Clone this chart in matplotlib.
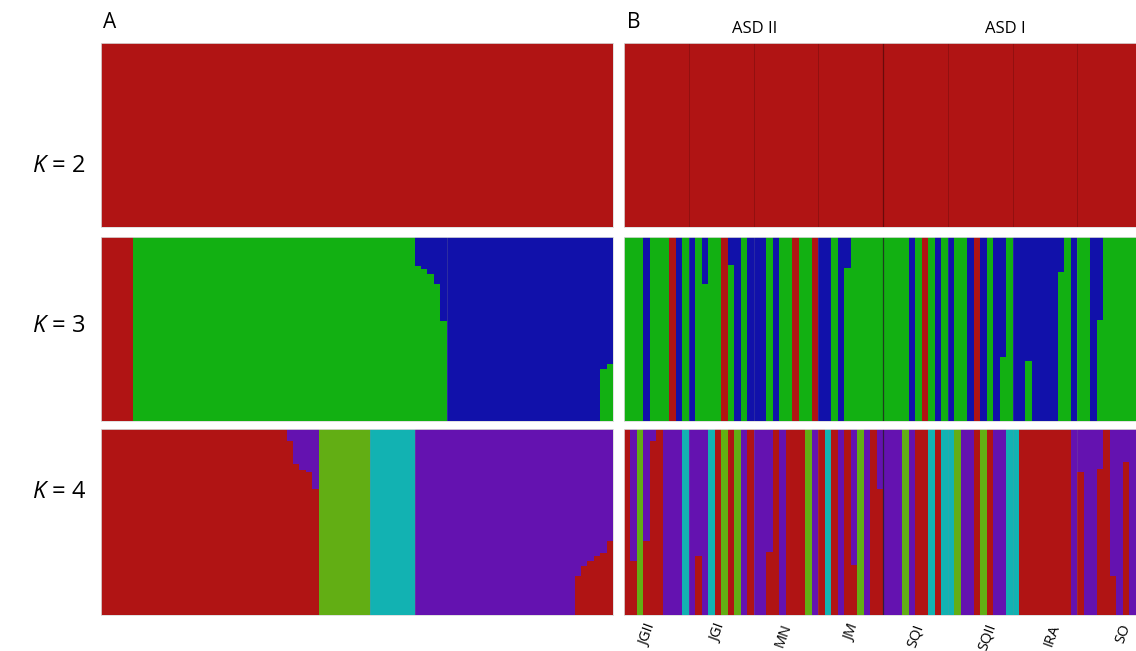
import numpy as np
import matplotlib
matplotlib.use("Agg")
import matplotlib.pyplot as plt

plt.rcParams['font.family'] = ['Open Sans', 'DejaVu Sans']
plt.rcParams['mathtext.fontset'] = 'custom'
plt.rcParams['mathtext.it'] = 'Open Sans:italic'
plt.rcParams['mathtext.rm'] = 'Open Sans'

# ---------------- colours ----------------
RED = '#B01414'
GREEN = '#12B012'
BLUE = '#1111AA'
PURPLE = '#6412B0'
LIME = '#62AE14'
TEAL = '#12B2B2'

# ---------------- labels ----------------
row_labels = ['2', '3', '4']
panel_letters = ['A', 'B']
group_labels = ['ASD II', 'ASD I']
pop_labels = ['JGII', 'JGI', 'MN', 'JM', 'SQI', 'SQII', 'IRA', 'SO']

# ---------------- panel A (80 individuals) ----------------
a_k2_red = [1.0] * 80

a_k3_red = [1.0] * 5 + [0.0] * 75
a_k3_green = ([0.0] * 5 + [1.0] * 44 + [0.845, 0.826, 0.80, 0.745, 0.543]
              + [0.0] * 24 + [0.28, 0.31])
a_k3_blue = ([0.0] * 5 + [0.0] * 44 + [0.155, 0.174, 0.20, 0.255, 0.457]
             + [1.0] * 24 + [0.72, 0.69])
a_k3_bounds = [54]

a_k4_red = ([1.0] * 29 + [0.937, 0.812, 0.78, 0.767, 0.68] + [0.0] * 8 + [0.0] * 7
            + [0.0] * 25 + [0.21, 0.263, 0.29, 0.317, 0.335, 0.40])
a_k4_lime = [0.0] * 34 + [1.0] * 8 + [0.0] * 38
a_k4_teal = [0.0] * 42 + [1.0] * 7 + [0.0] * 31
a_k4_purple = ([0.0] * 29 + [0.063, 0.188, 0.22, 0.233, 0.32] + [0.0] * 15
               + [1.0] * 25 + [0.79, 0.737, 0.71, 0.683, 0.665, 0.60])
a_k4_bounds = [42, 49]

# ---------------- panel B (8 populations x 10 individuals) ----------------
b_k2_red = [1.0] * 80

b_k3_red = [0, 0, 0, 0, 0, 0, 0, 1, 0, 0,
            0, 0, 0, 0, 0, 1, 0, 0, 0, 0,
            0, 0, 0, 0, 0, 0, 1, 0, 0, 1,
            0, 0, 0, 0, 0, 0, 0, 0, 0, 0,
            0, 0, 0, 0, 0, 0, 1, 0, 0, 0,
            0, 0, 0, 0, 1, 0, 0, 0, 0, 0,
            0, 0, 0, 0, 0, 0, 0, 0, 0, 0,
            0, 0, 0, 0, 0, 0, 0, 0, 0, 0]
b_k3_green = [1, 1, 1, 0, 1, 1, 1, 0, 0, 1,
              0, 1, 0.745, 1, 1, 0, 0.85, 0, 1, 0,
              0, 0, 1, 0, 1, 1, 0, 1, 1, 0,
              0, 0, 1, 0, 0.83, 1, 1, 1, 1, 1,
              1, 1, 1, 1, 0, 1, 0, 1, 0, 1,
              0, 1, 1, 0, 0, 0, 1, 0, 0.35, 1,
              0, 0, 0.325, 0, 0, 0, 0, 0.81, 1, 0,
              1, 1, 0, 0.55, 1, 1, 1, 1, 1, 1]
b_k3_blue = [0, 0, 0, 1, 0, 0, 0, 0, 1, 0,
             1, 0, 0.255, 0, 0, 0, 0.15, 1, 0, 1,
             1, 1, 0, 1, 0, 0, 0, 0, 0, 0,
             1, 1, 0, 1, 0.17, 0, 0, 0, 0, 0,
             0, 0, 0, 0, 1, 0, 0, 0, 1, 0,
             1, 0, 0, 1, 0, 1, 0, 1, 0.65, 0,
             1, 1, 0.675, 1, 1, 1, 1, 0.19, 0, 1,
             0, 0, 1, 0.45, 0, 0, 0, 0, 0, 0]

b_k4_red = [1, 0.29, 0, 0.40, 0.937, 1, 0, 0, 0, 0,
            0, 0.315, 0, 0, 1, 0, 1, 0, 0, 1,
            0, 0, 0.34, 1, 0, 1, 1, 1, 0, 0,
            1, 0, 1, 0, 1, 0.27, 0, 0, 1, 0.68,
            0, 0, 0, 0, 0, 1, 1, 0, 1, 0,
            0, 0, 0, 0, 1, 0, 1, 0, 0, 0,
            0, 1, 1, 1, 1, 1, 1, 1, 1, 0,
            0.77, 0, 0, 0.785, 1, 0.21, 0, 0.82, 0, 0]
b_k4_lime = [0, 0, 1, 0, 0, 0, 0, 0, 0, 0,
             0, 0, 0, 0, 0, 1, 0, 1, 0, 0,
             0, 0, 0, 0, 0, 0, 0, 0, 1, 0,
             0, 0, 0, 0, 0, 0, 1, 0, 0, 0,
             0, 0, 0, 1, 0, 0, 0, 0, 0, 0,
             0, 1, 0, 0, 0, 1, 0, 0, 0, 0,
             0, 0, 0, 0, 0, 0, 0, 0, 0, 0,
             0, 0, 0, 0, 0, 0, 0, 0, 0, 0]
b_k4_teal = [0, 0, 0, 0, 0, 0, 0, 0, 0, 1,
             0, 0, 0, 1, 0, 0, 0, 0, 0, 0,
             0, 0, 0, 0, 0, 0, 0, 0, 0, 0,
             0, 1, 0, 0, 0, 0, 0, 0, 0, 0,
             0, 0, 0, 0, 0, 0, 0, 1, 0, 1,
             1, 0, 0, 0, 0, 0, 0, 0, 0, 1,
             1, 0, 0, 0, 0, 0, 0, 0, 0, 0,
             0, 0, 0, 0, 0, 0, 0, 0, 0, 1]
b_k4_purple = [0, 0.71, 0, 0.60, 0.063, 0, 1, 1, 1, 0,
               1, 0.685, 1, 0, 0, 0, 0, 0, 1, 0,
               1, 1, 0.66, 0, 1, 0, 0, 0, 0, 1,
               0, 0, 0, 1, 0, 0.73, 0, 1, 0, 0.32,
               1, 1, 1, 0, 1, 0, 0, 0, 0, 0,
               0, 0, 1, 1, 0, 0, 0, 1, 1, 0,
               0, 0, 0, 0, 0, 0, 0, 0, 0, 1,
               0.23, 1, 1, 0.215, 0, 0.79, 1, 0.18, 1, 0]
b_bounds = [10, 20, 30, 50, 60, 70]
b_major_bound = [40]

# ---------------- layout (pixels) ----------------
W, H = 1136, 651
fig = plt.figure(figsize=(W / 100, H / 100), dpi=100)


def add_ax(x0, y0, x1, y1):
    return fig.add_axes([x0 / W, 1 - y1 / H, (x1 - x0) / W, (y1 - y0) / H])


def draw(ax, comps, colors, bounds=(), bcol='#888888', balpha=0.35,
         major=(), mcol='#222222', malpha=0.8):
    n = len(comps[0])
    x = np.arange(n)
    bottom = np.zeros(n)
    for vals, c in zip(comps, colors):
        v = np.asarray(vals, dtype=float)
        ax.bar(x, v, width=1.0, bottom=bottom, align='edge', color=c,
               linewidth=0, antialiased=False)
        bottom = bottom + v
    for b in bounds:
        ax.axvline(b, color=bcol, lw=0.7, alpha=balpha)
    for b in major:
        ax.axvline(b, color=mcol, lw=0.9, alpha=malpha)
    ax.set_xlim(0, n)
    ax.set_ylim(0, 1)
    ax.set_xticks([])
    ax.set_yticks([])
    for s in ax.spines.values():
        s.set_color('#dcdcdc')
        s.set_linewidth(0.6)


rows = [(43, 227), (237, 421), (429, 615)]
AX0, AX1 = 101, 613
BX0, BX1 = 624, 1142

axA2 = add_ax(AX0, rows[0][0], AX1, rows[0][1])
draw(axA2, [a_k2_red], [RED])
axA3 = add_ax(AX0, rows[1][0], AX1, rows[1][1])
draw(axA3, [a_k3_red, a_k3_green, a_k3_blue], [RED, GREEN, BLUE], bounds=a_k3_bounds,
     balpha=0.25)
axA4 = add_ax(AX0, rows[2][0], AX1, rows[2][1])
draw(axA4, [a_k4_red, a_k4_lime, a_k4_teal, a_k4_purple], [RED, LIME, TEAL, PURPLE],
     bounds=a_k4_bounds, balpha=0.25)

axB2 = add_ax(BX0, rows[0][0], BX1, rows[0][1])
draw(axB2, [b_k2_red], [RED], bounds=b_bounds, bcol='#5a0a0a', balpha=0.35,
     major=b_major_bound, mcol='#3a0505', malpha=0.6)
axB3 = add_ax(BX0, rows[1][0], BX1, rows[1][1])
draw(axB3, [b_k3_red, b_k3_green, b_k3_blue], [RED, GREEN, BLUE], bounds=b_bounds,
     balpha=0.2, major=b_major_bound)
axB4 = add_ax(BX0, rows[2][0], BX1, rows[2][1])
draw(axB4, [b_k4_red, b_k4_lime, b_k4_teal, b_k4_purple], [RED, LIME, TEAL, PURPLE],
     bounds=b_bounds, balpha=0.2, major=b_major_bound)


def ftext(x, y, s, **kw):
    fig.text(x / W, 1 - y / H, s, **kw)


ftext(103, 22, panel_letters[0], fontsize=15, ha='left', va='center')
ftext(627, 22, panel_letters[1], fontsize=15, ha='left', va='center')
ftext(755, 29, group_labels[0], fontsize=12, ha='center', va='center')
ftext(1005, 29, group_labels[1], fontsize=12, ha='center', va='center')

row_y = [166, 326, 492]
for lab, yy in zip(row_labels, row_y):
    ftext(59, yy, r'$K$ = ' + lab, fontsize=17, ha='center', va='center')

pop_x = [648, 718, 783, 852, 916, 987, 1052, 1123]
for lab, xx in zip(pop_labels, pop_x):
    ftext(xx, 622, lab, fontsize=10.5, rotation=70, ha='center', va='top')

fig.savefig('out.png', dpi=100)
